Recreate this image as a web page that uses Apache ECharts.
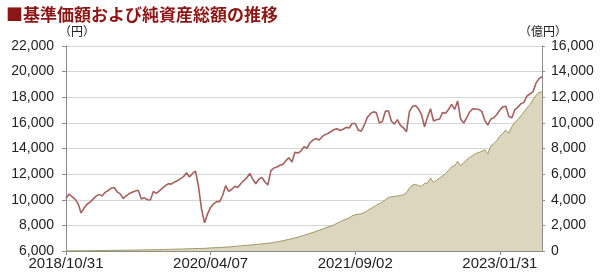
<!DOCTYPE html>
<html>
<head>
<meta charset="utf-8">
<script src="https://cdn.jsdelivr.net/npm/echarts@6/dist/echarts.min.js"></script>
<style>
html,body{margin:0;padding:0;background:#fff;}
#chart{width:600px;height:280px;}
</style>
</head>
<body>
<div id="chart"></div>
<script>
const titleText = '■基準価額および純資産総額の推移';
const leftUnit = '（円）';
const rightUnit = '（億円）';
const seriesNames = ['基準価額', '純資産総額'];
const xTickLabels = ['2018/10/31', '2020/04/07', '2021/09/02', '2023/01/31'];
const pointsPerTick = 48;

// 基準価額 (円), left axis
const navValues = [
10100,10450,10250,10050,9700,8970,9350,9650,9820,10050,
10280,10420,10300,10580,10720,10900,10950,10610,10460,10100,
10300,10480,10580,10680,10740,10050,10150,10000,9980,10640,
10500,10700,10900,11100,11250,11220,11390,11480,11650,11800,
12100,11780,12050,12230,11000,9250,8200,8900,9400,9680,
9850,9850,10350,11100,10650,10800,11050,10950,11250,11500,
11700,12050,11600,11250,11600,11750,11400,11150,12250,12480,
12560,12690,12760,13050,13280,12950,13700,13650,13800,14150,
14020,14450,14660,14780,14650,14920,15080,15180,15330,15480,
15540,15400,15500,15650,15600,15950,15950,15450,15350,15820,
16430,16700,16860,16800,16000,16100,16900,16950,16150,15900,
16250,15800,15620,15300,16900,17280,17350,17100,16650,15700,
16450,17100,16150,16250,16300,16800,16750,17050,17450,17050,
17700,16300,15980,16400,16850,17100,17080,17050,16900,16200,
15820,16300,16400,16650,17000,17250,17300,16500,16400,17040,
17230,17500,17600,18100,18250,18420,19100,19450,19600
];

// 純資産総額 (億円), right axis
const assetValues = [
5,8,10,12,14,16,18,20,23,26,
29,32,36,40,44,48,52,56,58,60,
64,68,72,76,80,85,88,92,96,100,
105,110,116,122,128,134,140,147,154,160,
168,175,182,190,198,200,205,220,240,250,
262,275,290,305,320,340,358,378,398,420,
440,460,480,505,530,555,580,605,630,670,
710,750,800,860,910,960,1020,1080,1150,1230,
1300,1380,1450,1530,1620,1700,1790,1880,1950,2040,
2180,2280,2400,2490,2590,2750,2820,2870,2900,3000,
3150,3280,3420,3570,3700,3820,4000,4180,4230,4260,
4290,4330,4380,4550,4900,5150,5200,5100,5050,5270,
5300,5700,5350,5520,5700,5850,6050,6300,6560,6650,
7000,6650,6900,7120,7300,7450,7610,7680,7780,7900,
7600,8180,8380,8620,8950,9200,9430,9200,9690,10050,
10250,10550,10850,11150,11420,11800,12150,12380,12420
];

const categories = navValues.map((v, i) =>
  i % pointsPerTick === 0 && xTickLabels[i / pointsPerTick] ? xTickLabels[i / pointsPerTick] : String(i));

const fmt = v => String(v).replace(/\B(?=(\d{3})+(?!\d))/g, ',');
const axisFont = 'Liberation Sans, Arial, sans-serif';

const chart = echarts.init(document.getElementById('chart'), null, {renderer: 'canvas'});
chart.setOption({
  animation: false,
  backgroundColor: '#ffffff',
  title: {
    text: titleText,
    left: 1, top: 1,
    textStyle: {color: '#8c1515', fontSize: 17, fontWeight: 'bold', fontFamily: 'Noto Sans CJK JP'}
  },
  graphic: [
    {type: 'text', left: 59, top: 25, style: {text: leftUnit, fontSize: 12, fontFamily: 'Noto Sans CJK JP', fill: '#222'}},
    {type: 'text', left: 519, top: 25, style: {text: rightUnit, fontSize: 12, fontFamily: 'Noto Sans CJK JP', fill: '#222'}}
  ],
  grid: {left: 66, right: 58, top: 46, bottom: 29, containLabel: false},
  xAxis: {
    type: 'category',
    data: categories,
    boundaryGap: false,
    axisLine: {show: true, lineStyle: {color: '#8c8c8c', width: 1}},
    axisTick: {show: true, length: 4, interval: i => i % pointsPerTick === 0, lineStyle: {color: '#8c8c8c'}},
    axisLabel: {
      interval: i => i % pointsPerTick === 0,
      color: '#222', fontSize: 15, fontFamily: axisFont, margin: 5,
      showMinLabel: true
    },
    splitLine: {show: false}
  },
  yAxis: [
    {
      type: 'value', min: 6000, max: 22000, interval: 2000, position: 'left',
      axisLine: {show: true, lineStyle: {color: '#8c8c8c'}},
      axisTick: {show: true, length: 4, lineStyle: {color: '#8c8c8c'}},
      axisLabel: {color: '#222', fontSize: 14, fontFamily: axisFont, margin: 12, formatter: fmt},
      splitLine: {show: true, lineStyle: {color: '#d6d6d6', width: 1}}
    },
    {
      type: 'value', min: 0, max: 16000, interval: 2000, position: 'right',
      axisLine: {show: true, lineStyle: {color: '#8c8c8c'}},
      axisTick: {show: true, length: 3, lineStyle: {color: '#8c8c8c'}},
      axisLabel: {color: '#222', fontSize: 14, fontFamily: axisFont, margin: 9, formatter: fmt},
      splitLine: {show: false}
    }
  ],
  series: [
    {
      name: seriesNames[1], type: 'line', yAxisIndex: 1, data: assetValues,
      symbol: 'none', smooth: false, z: 1,
      lineStyle: {color: '#9c9766', width: 1},
      areaStyle: {color: '#dcd6be', opacity: 1}
    },
    {
      name: seriesNames[0], type: 'line', yAxisIndex: 0, data: navValues,
      symbol: 'none', smooth: false, z: 3,
      lineStyle: {color: '#a3625e', width: 1.6}
    }
  ]
});
</script>
</body>
</html>
